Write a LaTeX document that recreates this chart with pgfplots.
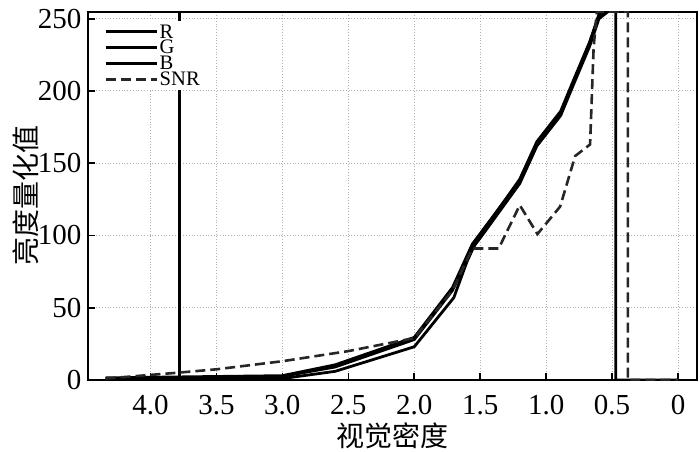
\documentclass[border=0pt]{standalone}
\usepackage{pgfplots}
\pgfplotsset{compat=1.18}
\usepackage{fontspec}
\setmainfont{Liberation Serif}
\newfontfamily\cjk{Noto Sans CJK SC}
\begin{document}
\begin{tikzpicture}
\useasboundingbox (-44.25pt,-35.5pt) rectangle (305.75pt,190pt);
\begin{axis}[
 at={(0,0)}, anchor=south west, scale only axis, width=304pt, height=184.25pt,
 x dir=reverse, xmin=-0.14, xmax=4.47, ymin=0, ymax=255,
 xtick={0,0.5,1,1.5,2,2.5,3,3.5,4},
 xticklabels={0,0.5,1.0,1.5,2.0,2.5,3.0,3.5,4.0},
 ytick={0,50,100,150,200,250},
 tick align=inside, xtick pos=bottom, ytick pos=left, major tick length=3.3pt,
 tick style={black, line width=0.8pt},
 axis line style={line width=1pt},
 grid=major, major grid style={densely dotted, gray!60, line width=0.5pt},
 tick label style={font=\fontsize{14.5}{14.5}\selectfont},
 xticklabel style={yshift=-4pt},
 /pgf/number format/assume math mode=true,
 xlabel={\cjk 视觉密度}, ylabel={\cjk 亮度量化值},
 label style={font=\fontsize{14}{14}\selectfont},
 xlabel style={at={(axis description cs:0.5,0)}, anchor=center, yshift=-27.75pt},
 ylabel style={at={(axis description cs:0,0.5)}, anchor=center, yshift=31.25pt},
 legend style={at={(axis description cs:0,1)}, anchor=north west, xshift=7pt, yshift=-4.5pt,
   draw=none, fill=white, fill opacity=1, text opacity=1, font=\fontsize{10.3}{10.3}\selectfont, row sep=0pt,
   inner xsep=1pt, inner ysep=1.5pt,
   nodes={inner sep=0.5pt, text height=6.6pt, text depth=0.3pt}},
 legend cell align=left,
 legend image code/.code={\draw[#1, line width=1.2pt] (0cm,0cm) -- (0.84cm,0cm);
   \path (0cm,0cm) -- (0.84cm+1.6pt,0cm);},
]
\addplot[forget plot, black, line width=1.1pt] coordinates {(3.78,0)(3.78,255)};
\addplot[black, line width=1.4pt] coordinates {
(4.34,1.5)(3.0,3)(2.6,10.5)(2.0,29.5)(1.71,64)(1.56,94)(1.47,105)(1.2,138)(1.07,164)(0.89,185)(0.79,207)(0.67,233)(0.6,252)(0.55,255)(0.473,255)(0.473,0)(0,0)};
\addlegendentry{R}
\addplot[black, line width=1.4pt] coordinates {
(4.34,1)(3.0,2.5)(2.6,9)(2.0,28)(1.71,62)(1.56,91)(1.47,102)(1.2,136)(1.07,162)(0.89,183)(0.79,205)(0.67,231)(0.6,250)(0.53,255)(0.473,255)};
\addlegendentry{G}
\addplot[black, line width=1.4pt] coordinates {
(4.34,0.5)(3.0,1)(2.6,6)(2.0,23)(1.70,57)(1.6,82)(1.53,96)(1.47,104)(1.2,139)(1.07,165)(0.89,186)(0.79,208)(0.67,234)(0.6,253)(0.55,255)(0.473,255)};
\addlegendentry{B}
\addplot[black!85, line width=1.3pt, dash pattern=on 5pt off 2.5pt] coordinates {
(4.34,1)(3.8,5)(3.5,7.4)(3.0,13)(2.5,20)(2.0,29)(1.71,62)(1.56,91)(1.36,91)(1.2,121)(1.066,101)(0.894,120)(0.78,155)(0.667,163)(0.64,230)(0.616,255)(0.38,255)(0.38,0)(0,0)};
\addlegendentry{SNR}
\end{axis}
\end{tikzpicture}
\end{document}
